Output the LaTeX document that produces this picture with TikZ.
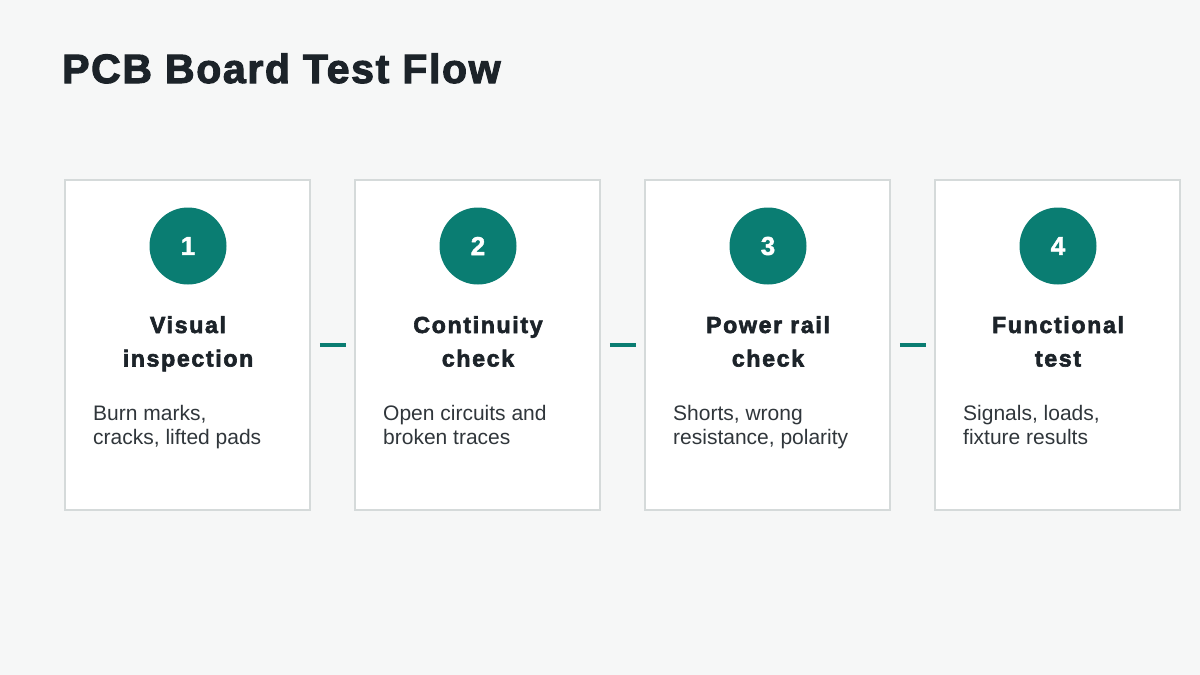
\documentclass[tikz,border=0pt]{standalone}
\usepackage{fontspec}
\setmainfont{Liberation Sans}
\newfontfamily\titlefont[LetterSpace=4,FakeBold=2.6]{Liberation Sans Bold}
\newfontfamily\headfont[LetterSpace=7,FakeBold=2.6]{Liberation Sans Bold}
\newfontfamily\numfont[FakeBold=1.6]{Liberation Sans Bold}
\definecolor{bgcol}{HTML}{F6F7F7}
\definecolor{teal}{HTML}{0A7D72}
\definecolor{ink}{HTML}{1C2329}
\definecolor{desc}{HTML}{30363B}
\definecolor{edge}{HTML}{D5DADA}
\tikzset{
  card/.style={draw=edge, line width=1.6pt, fill=white, minimum width=245pt, minimum height=330pt, inner sep=0pt},
  badge/.style={circle, fill=teal, minimum size=77pt, inner sep=0pt, text=white, font=\fontsize{26}{26}\numfont},
  heading/.style={anchor=base, align=center, text=ink, inner sep=0pt, font=\fontsize{23.2}{33.5}\headfont},
  body/.style={anchor=base west, align=left, text=desc, inner sep=0pt, font=\fontsize{21}{24.5}\selectfont},
  link/.style={draw=teal, line width=3.5pt},
  titletext/.style={anchor=base west, text=ink, inner sep=0pt, font=\fontsize{41}{41}\titlefont}
}
\begin{document}
\begin{tikzpicture}[x=1pt, y=-1pt]
\fill[bgcol] (0,0) rectangle (1200,675);
\useasboundingbox (0,0) rectangle (1200,675);
\node[titletext] (title) at (62,83) {PCB Board Test Flow};

\node[card] (b1) at (187.5,345) {};
\node[card] (b2) at (477.5,345) {};
\node[card] (b3) at (767.5,345) {};
\node[card] (b4) at (1057.5,345) {};

\node[badge] (c1) at (188,246) {1};
\node[badge] (c2) at (478,246) {2};
\node[badge] (c3) at (768,246) {3};
\node[badge] (c4) at (1058,246) {4};

\node[heading] (h1) at (188,366.5) {Visual\\inspection};
\node[heading] (h2) at (478,366.5) {Continuity\\check};
\node[heading] (h3) at (768,366.5) {Power rail\\check};
\node[heading] (h4) at (1058,366.5) {Functional\\test};

\node[body] (d1) at (93,444.5) {Burn marks,\\cracks, lifted pads};
\node[body] (d2) at (383,444.5) {Open circuits and\\broken traces};
\node[body] (d3) at (673,444.5) {Shorts, wrong\\resistance, polarity};
\node[body] (d4) at (963,444.5) {Signals, loads,\\fixture results};

\draw[link] ([xshift=9pt]b1.east) -- ([xshift=-8pt]b2.west);
\draw[link] ([xshift=9pt]b2.east) -- ([xshift=-8pt]b3.west);
\draw[link] ([xshift=9pt]b3.east) -- ([xshift=-8pt]b4.west);
\end{tikzpicture}
\end{document}
